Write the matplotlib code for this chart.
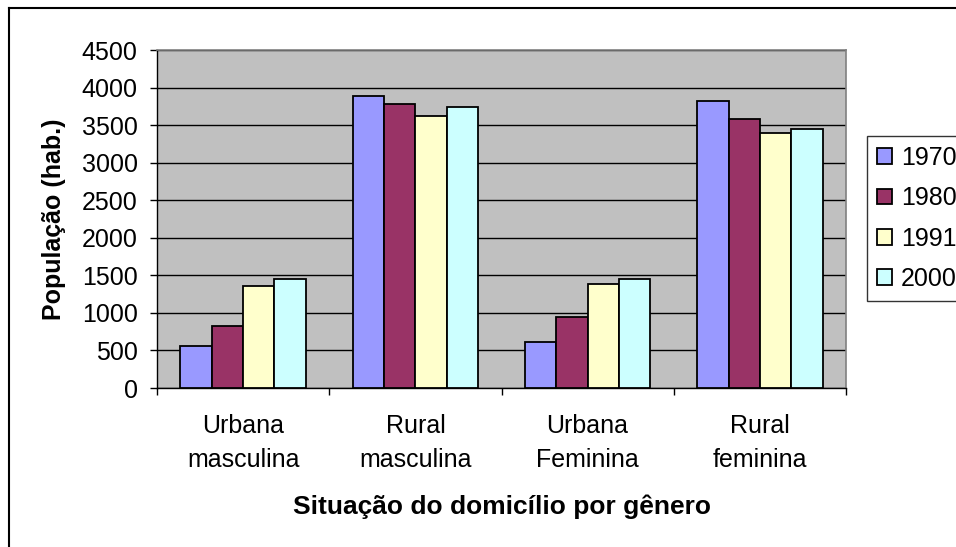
import numpy as np
import matplotlib
matplotlib.use('Agg')
import matplotlib.pyplot as plt
from matplotlib.patches import Rectangle
from matplotlib.lines import Line2D

plt.rcParams['font.family'] = ['Liberation Sans', 'DejaVu Sans']

categories = ['Urbana\nmasculina', 'Rural\nmasculina', 'Urbana\nFeminina', 'Rural\nfeminina']
years = ['1970', '1980', '1991', '2000']
v1970 = [555, 3890, 615, 3820]
v1980 = [830, 3785, 940, 3575]
v1991 = [1360, 3625, 1390, 3390]
v2000 = [1445, 3740, 1445, 3445]
colors = ['#9999FF', '#993366', '#FFFFCC', '#CCFFFF']

W, H = 956, 547
fs = 18
fig = plt.figure(figsize=(W / 100, H / 100), dpi=100)

# plot area in pixels
x0, x1, y0, y1 = 157, 846, 50, 388
ax = fig.add_axes([x0 / W, 1 - y1 / H, (x1 - x0) / W, (y1 - y0) / H])
ax.set_facecolor('#C0C0C0')

series = [v1970, v1980, v1991, v2000]
bw = 1 / 5.5
x = np.arange(len(categories))
for i, vals in enumerate(series):
    ax.bar(x + (i - 1.5) * bw, vals, bw, color=colors[i], edgecolor='black',
           linewidth=1.3, zorder=3, label=years[i])

ax.set_xlim(-0.5, 3.5)
ax.set_ylim(0, 4500)
ax.set_yticks(np.arange(0, 4501, 500))
ax.yaxis.grid(True, color='black', linewidth=1)
ax.set_axisbelow(True)

ax.set_xticks(np.arange(-0.5, 4, 1))
ax.set_xticklabels([])
ax.set_xticks(x, minor=True)
ax.set_xticklabels(categories, minor=True, linespacing=1.5)
ax.tick_params(axis='x', which='major', length=5, width=1, direction='out')
ax.tick_params(axis='x', which='minor', length=0, pad=19, labelsize=fs)
ax.tick_params(axis='y', length=5, width=1, pad=9, labelsize=fs)

for s in ['top', 'right']:
    ax.spines[s].set_color('#808080')
    ax.spines[s].set_linewidth(1.2)
for s in ['left', 'bottom']:
    ax.spines[s].set_color('black')
    ax.spines[s].set_linewidth(1)

ax.set_ylabel('População (hab.)', fontsize=fs, fontweight='bold')
ax.yaxis.set_label_coords((66 - x0) / (x1 - x0), 0.5)

fig.text(502 / W, 1 - 507 / H, 'Situação do domicílio por gênero',
         fontsize=19, fontweight='bold', ha='center', va='center')

handles = [Rectangle((0, 0), 1, 1, facecolor=c, edgecolor='black', linewidth=1.3)
           for c in colors]
leg = fig.legend(handles, years, loc='center left',
                 bbox_to_anchor=(867 / W, 1 - 218.5 / H), fontsize=fs,
                 frameon=True, fancybox=False, edgecolor='black',
                 handlelength=0.6, handleheight=0.6, handletextpad=0.35,
                 labelspacing=0.65, borderpad=0.4, borderaxespad=0)
leg.get_frame().set_linewidth(1)

# outer chart border (left and top visible)
fig.add_artist(Line2D([9 / W, 9 / W], [0, 1 - 8 / H], color='black', linewidth=1.5))
fig.add_artist(Line2D([9 / W, 1], [1 - 8 / H, 1 - 8 / H], color='black', linewidth=1.5))

fig.savefig('out.png', dpi=100)
